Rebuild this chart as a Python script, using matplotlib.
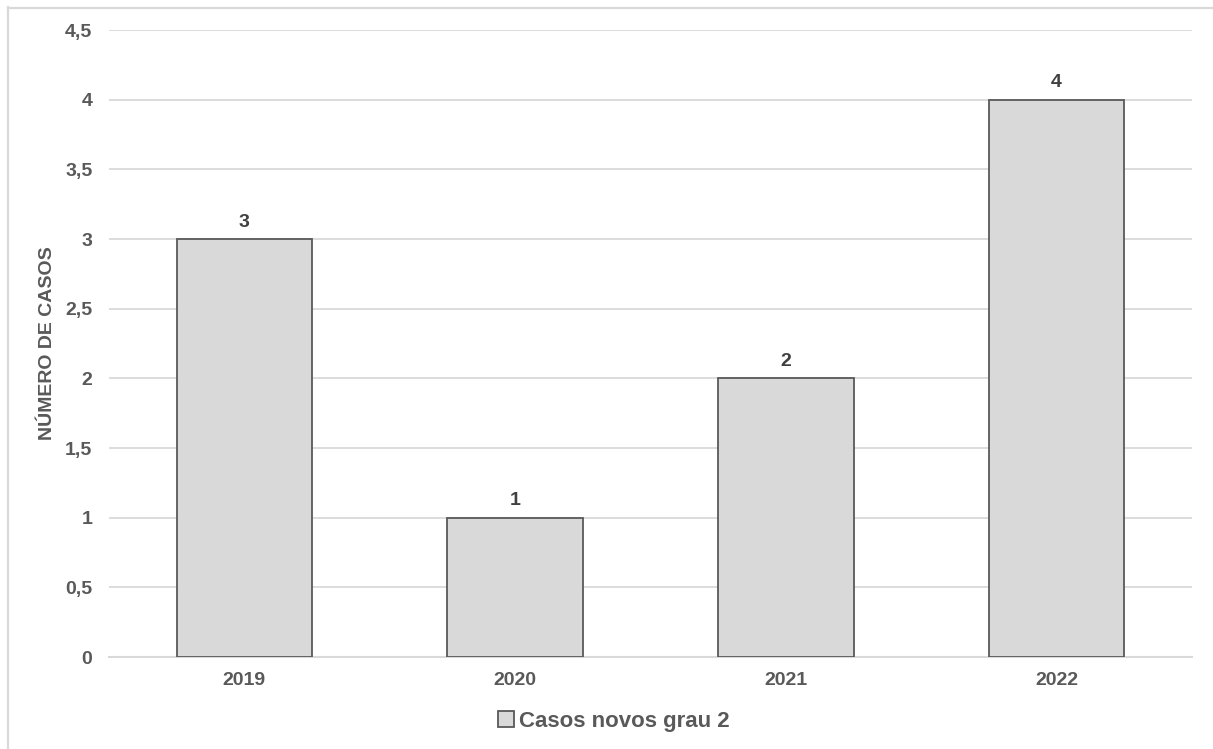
import matplotlib
matplotlib.use("Agg")
import matplotlib.pyplot as plt
from matplotlib.lines import Line2D
from matplotlib.ticker import FuncFormatter, MultipleLocator

years = ["2019", "2020", "2021", "2022"]
cases = [3, 1, 2, 4]
series_name = "Casos novos grau 2"

plt.rcParams["font.family"] = ["Liberation Sans", "DejaVu Sans"]
text_color = "#595959"
grid_color = "#d9d9d9"

W, H = 1213, 749
fig = plt.figure(figsize=(W / 100, H / 100), dpi=100)
ax = fig.add_axes([109 / W, 1 - 657 / H, (1192 - 109) / W, (657 - 30) / H])

x = range(len(years))
bars = ax.bar(x, cases, width=0.5, color="#d9d9d9", edgecolor="#595959",
              linewidth=1.3, label=series_name, zorder=3)

for xi, v in zip(x, cases):
    ax.annotate(f"{v}", (xi, v), xytext=(0, 6), textcoords="offset points",
                ha="center", va="bottom", fontsize=14, fontweight="bold",
                color="#404040")

ax.set_xlim(-0.5, len(years) - 0.5)
ax.set_ylim(0, 4.5)
ax.yaxis.set_major_locator(MultipleLocator(0.5))
ax.yaxis.set_major_formatter(FuncFormatter(
    lambda v, _: f"{v:g}".replace(".", ",")))
ax.set_xticks(list(x))
ax.set_xticklabels(years)

ax.grid(axis="y", color=grid_color, linewidth=1.3, zorder=0)
for s in ["top", "right", "left"]:
    ax.spines[s].set_visible(False)
ax.spines["bottom"].set_color(grid_color)
ax.spines["bottom"].set_linewidth(1.5)
ax.tick_params(axis="both", length=0, labelsize=14, labelcolor=text_color)
ax.tick_params(axis="y", pad=12)
ax.tick_params(axis="x", pad=11)
for lbl in ax.get_xticklabels() + ax.get_yticklabels():
    lbl.set_fontweight("bold")

ax.set_ylabel("NÚMERO DE CASOS", fontsize=14, fontweight="bold",
              color=text_color)
ax.yaxis.set_label_coords(-0.049, 0.5)

fig.legend(handles=[bars], labels=[series_name], loc="center",
           bbox_to_anchor=(614 / W, 1 - 721 / H), frameon=False,
           handlelength=0.7, handleheight=0.7, handletextpad=0.25,
           prop={"weight": "bold", "size": 16}, labelcolor=text_color)

# outer chart frame
fig.add_artist(Line2D([7.5 / W, 7.5 / W], [0, 1 - 7 / H], color=grid_color,
                      linewidth=1.6, transform=fig.transFigure))
fig.add_artist(Line2D([7.5 / W, 1], [1 - 7.5 / H, 1 - 7.5 / H], color=grid_color,
                      linewidth=1.6, transform=fig.transFigure))

fig.savefig("out.png", dpi=100)
